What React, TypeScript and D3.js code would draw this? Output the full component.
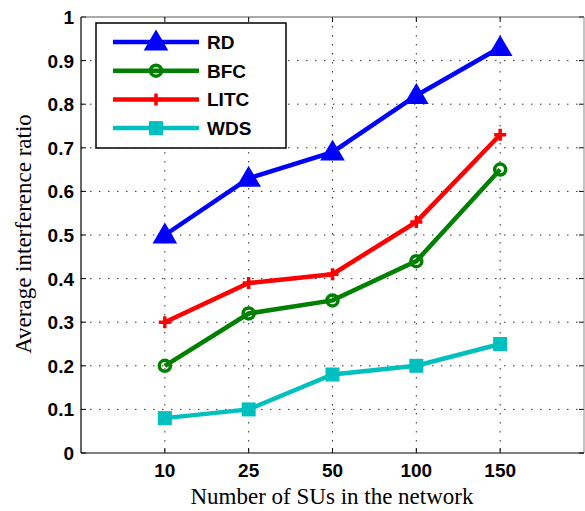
import React from "react";
import * as d3 from "d3";

const categories = ["10", "25", "50", "100", "150"];
const yTicks = [0, 0.1, 0.2, 0.3, 0.4, 0.5, 0.6, 0.7, 0.8, 0.9, 1];
const rd = [0.5, 0.63, 0.69, 0.82, 0.93];
const bfc = [0.2, 0.32, 0.35, 0.44, 0.65];
const litc = [0.3, 0.39, 0.41, 0.53, 0.73];
const wds = [0.08, 0.1, 0.18, 0.2, 0.25];

const series = [
  { name: "RD", values: rd, color: "#0000ff", marker: "triangle" },
  { name: "BFC", values: bfc, color: "#008000", marker: "circle" },
  { name: "LITC", values: litc, color: "#ff0000", marker: "plus" },
  { name: "WDS", values: wds, color: "#00bfbf", marker: "square" },
];

const W = 585, H = 511;
const L = 81, R = 584, T = 17, B = 453;

function Marker({ type, x, y, color }: { type: string; x: number; y: number; color: string }) {
  if (type === "triangle") {
    const s = 11;
    return <path d={`M${x},${y - s}L${x + s},${y + s * 0.7}L${x - s},${y + s * 0.7}Z`} fill={color} stroke={color} strokeWidth={1.5} />;
  }
  if (type === "circle") {
    return <circle cx={x} cy={y} r={5.5} fill="none" stroke={color} strokeWidth={3.5} />;
  }
  if (type === "plus") {
    return <path d={`M${x - 6},${y}H${x + 6}M${x},${y - 6}V${y + 6}`} stroke={color} strokeWidth={3.5} fill="none" />;
  }
  return <rect x={x - 7} y={y - 7} width={14} height={14} fill={color} />;
}

export default function App() {
  const x = d3.scaleLinear().domain([0, 6]).range([L, R]);
  const y = d3.scaleLinear().domain([0, 1]).range([B, T]);
  const line = d3.line<number>().x((_, i) => x(i + 1)).y((d) => y(d));
  const sans = "Liberation Sans, Arial, sans-serif";
  const serif = "Liberation Serif, Times New Roman, serif";
  const legX = 96, legY = 23, legW = 190, legH = 125;
  return (
    <svg width={W} height={H} style={{ position: "absolute", left: 0, top: 0 }}>
      <rect x={0} y={0} width={W} height={H} fill="#fff" />
      {/* grid */}
      {categories.map((c, i) => (
        <line key={"gx" + c} x1={x(i + 1)} x2={x(i + 1)} y1={T} y2={B} stroke="#333" strokeWidth={1} strokeDasharray="1.5,7.5" />
      ))}
      {yTicks.slice(1, -1).map((t) => (
        <line key={"gy" + t} x1={L} x2={R} y1={y(t)} y2={y(t)} stroke="#333" strokeWidth={1} strokeDasharray="1.5,7.5" />
      ))}
      {/* ticks */}
      {categories.map((c, i) => (
        <g key={"tx" + c}>
          <line x1={x(i + 1)} x2={x(i + 1)} y1={B} y2={B - 5} stroke="#000" />
          <line x1={x(i + 1)} x2={x(i + 1)} y1={T} y2={T + 5} stroke="#000" />
          <text x={x(i + 1)} y={477} textAnchor="middle" fontFamily={sans} fontWeight="bold" fontSize={19}>{c}</text>
        </g>
      ))}
      {yTicks.map((t) => (
        <g key={"ty" + t}>
          <line x1={L} x2={L + 5} y1={y(t)} y2={y(t)} stroke="#000" />
          <line x1={R} x2={R - 5} y1={y(t)} y2={y(t)} stroke="#000" />
          <text x={74} y={y(t) + 7} textAnchor="end" fontFamily={sans} fontWeight="bold" fontSize={19}>{t}</text>
        </g>
      ))}
      {/* frame */}
      <line x1={L} x2={R} y1={T} y2={T} stroke="#555" />
      <line x1={R} x2={R} y1={T} y2={B} stroke="#888" />
      <line x1={L} x2={L} y1={T} y2={B} stroke="#000" strokeWidth={1.2} />
      <line x1={L} x2={R} y1={B} y2={B} stroke="#000" strokeWidth={1.2} />
      {/* series */}
      {series.map((s) => (
        <g key={s.name}>
          <path d={line(s.values) || ""} fill="none" stroke={s.color} strokeWidth={4.5} />
          {s.values.map((v, i) => (
            <Marker key={i} type={s.marker} x={x(i + 1)} y={y(v)} color={s.color} />
          ))}
        </g>
      ))}
      {/* legend */}
      <rect x={legX} y={legY} width={legW} height={legH} fill="#fff" stroke="#000" strokeWidth={1.5} />
      {series.map((s, i) => {
        const ly = 42 + i * 28.7;
        return (
          <g key={"l" + s.name}>
            <line x1={113} x2={199} y1={ly} y2={ly} stroke={s.color} strokeWidth={4.5} />
            <Marker type={s.marker} x={156} y={ly} color={s.color} />
            <text x={207} y={ly + 7} fontFamily={sans} fontWeight="bold" fontSize={19}>{s.name}</text>
          </g>
        );
      })}
      {/* axis titles */}
      <text x={332} y={504} textAnchor="middle" fontFamily={serif} fontSize={23}>Number of SUs in the network</text>
      <text transform={`translate(31,234) rotate(-90)`} textAnchor="middle" fontFamily={serif} fontSize={23}>Average interference ratio</text>
    </svg>
  );
}
